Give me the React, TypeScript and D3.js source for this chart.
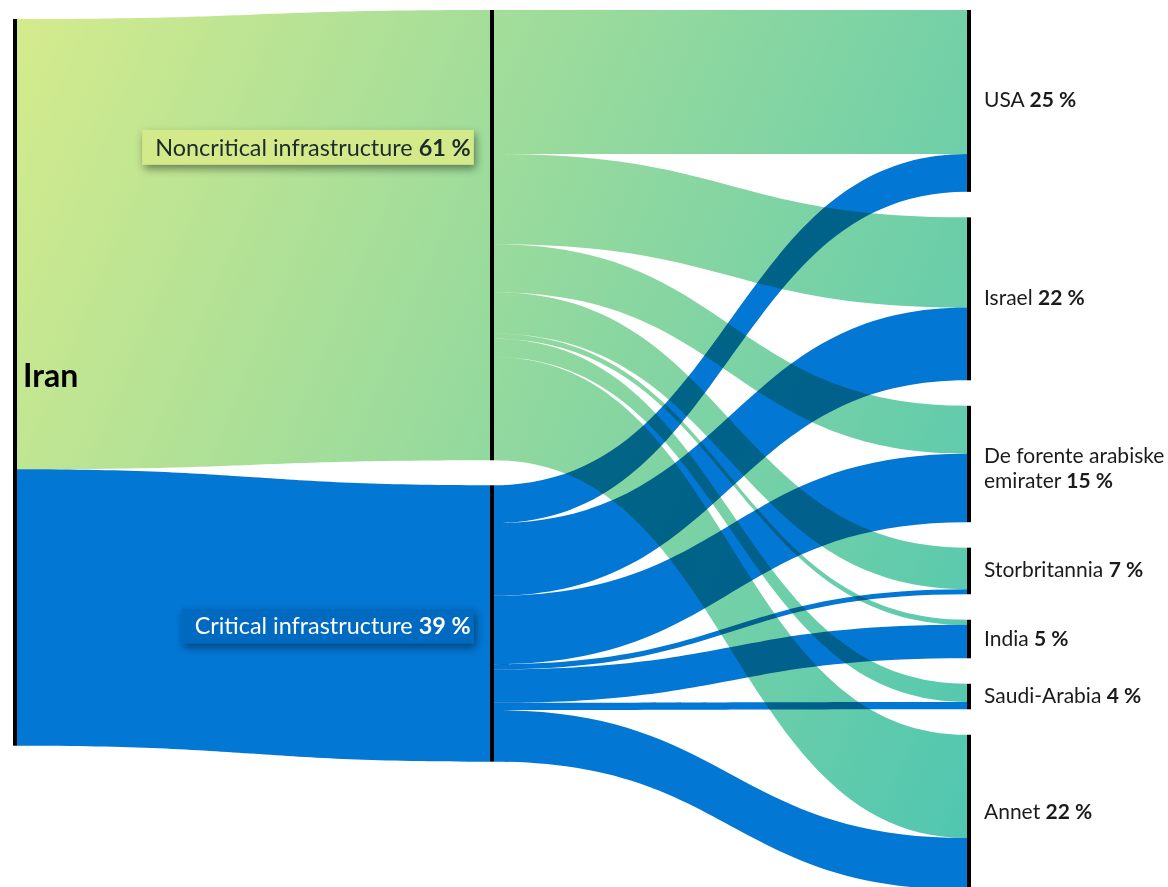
import React, { useMemo } from 'react';
import * as d3 from 'd3';

// ---------- data ----------
const sourceName = 'Iran';
const categories = ['Noncritical infrastructure', 'Critical infrastructure'];
const categoryShares = ['61 %', '39 %'];
const countries = [
  'USA',
  'Israel',
  'De forente arabiske emirater',
  'Storbritannia',
  'India',
  'Saudi-Arabia',
  'Annet',
];
const countryShares = ['25 %', '22 %', '15 %', '7 %', '5 %', '4 %', '22 %'];
const noncriticalValues = [19.8, 12.4, 6.6, 5.7, 0.7, 2.5, 14.2];
const criticalValues = [5.2, 10.0, 9.4, 0.7, 4.6, 1.0, 7.1];

// ---------- layout / style ----------
const W = 1168;
const H = 887;
const FONT = "Lato, 'Segoe UI', 'Open Sans', sans-serif";
const NODE_W = 4;
const COL_X = [13, 490, 967];
const COL_TOP = [19, 10, 10];
const PAD_MID = 25;
const PAD_RIGHT = 25.5;
const VALUE_PX = 726.7;
const MID_LABEL_ANCHOR = [0.305, 0.509];
const GREEN0 = '#d5eb8c';
const GREEN1 = '#4ec6b1';
const BLUE = '#0277d4';
const RIGHT_FS = 21;
const MID_FS = 23.4;
const RIGHT_LABEL_X = 984;
const RIGHT_LABEL_MAXW = 192;
const LINE_H = 25;

let measureCtx: CanvasRenderingContext2D | null = null;
function textWidth(s: string, size: number, weight: number) {
  if (!measureCtx) measureCtx = document.createElement('canvas').getContext('2d');
  if (!measureCtx) return s.length * size * 0.5;
  measureCtx.font = `${weight} ${size}px Lato`;
  return measureCtx.measureText(s).width;
}

function ribbon(x0: number, x1: number, s0: number, s1: number, t0: number, t1: number) {
  const p = d3.path();
  const xm = (x0 + x1) / 2;
  p.moveTo(x0, s0);
  p.bezierCurveTo(xm, s0, xm, t0, x1, t0);
  p.lineTo(x1, t1);
  p.bezierCurveTo(xm, t1, xm, s1, x0, s1);
  p.closePath();
  return p.toString();
}

function wrapName(name: string) {
  const words = name.split(' ');
  const lines: string[] = [];
  let cur = '';
  words.forEach((w) => {
    const test = cur ? cur + ' ' + w : w;
    if (cur && textWidth(test, RIGHT_FS, 400) > RIGHT_LABEL_MAXW) {
      lines.push(cur);
      cur = w;
    } else cur = test;
  });
  lines.push(cur);
  return lines;
}

export default function App() {
  const model = useMemo(() => {
    const catValues = [noncriticalValues, criticalValues];
    const catTotals = catValues.map((v) => d3.sum(v));
    const total = d3.sum(catTotals);
    const k = d3.scaleLinear().domain([0, total]).range([0, VALUE_PX]);

    const src = { y0: COL_TOP[0], y1: COL_TOP[0] + k(total) };

    const mids: { y0: number; y1: number }[] = [];
    let y = COL_TOP[1];
    catTotals.forEach((t) => {
      mids.push({ y0: y, y1: y + k(t) });
      y += k(t) + PAD_MID;
    });

    const rights: { y0: number; y1: number }[] = [];
    y = COL_TOP[2];
    countries.forEach((_, i) => {
      const v = noncriticalValues[i] + criticalValues[i];
      rights.push({ y0: y, y1: y + k(v) });
      y += k(v) + PAD_RIGHT;
    });

    const firstLinks: { d: string; cat: number }[] = [];
    let sy = src.y0;
    catTotals.forEach((t, c) => {
      const h = k(t);
      firstLinks.push({
        d: ribbon(COL_X[0] + NODE_W, COL_X[1], sy, sy + h, mids[c].y0, mids[c].y1),
        cat: c,
      });
      sy += h;
    });

    const secondLinks: { d: string; cat: number }[] = [];
    const rightOffset = rights.map((r) => r.y0);
    catValues.forEach((vals, c) => {
      let s = mids[c].y0;
      vals.forEach((v, i) => {
        const h = k(v);
        const t = rightOffset[i];
        secondLinks.push({
          d: ribbon(COL_X[1] + NODE_W, COL_X[2], s, s + h, t, t + h),
          cat: c,
        });
        s += h;
        rightOffset[i] += h;
      });
    });

    return { src, mids, rights, firstLinks, secondLinks };
  }, []);

  const { src, mids, rights, firstLinks, secondLinks } = model;
  const fillFor = (c: number) => (c === 0 ? 'url(#greenGrad)' : BLUE);

  return (
    <svg
      width={W}
      height={H}
      viewBox={`0 0 ${W} ${H}`}
      style={{ position: 'absolute', left: 0, top: 0, display: 'block', background: '#fff' }}
      fontFamily={FONT}
    >
      <defs>
        <linearGradient id="greenGrad" gradientUnits="userSpaceOnUse" x1={13} y1={19} x2={1132} y2={493}>
          <stop offset="0" stopColor={GREEN0} />
          <stop offset="1" stopColor={GREEN1} />
        </linearGradient>
        <filter id="boxShadow" x="-10%" y="-40%" width="125%" height="200%">
          <feDropShadow dx="2" dy="4" stdDeviation="4" floodColor="#000" floodOpacity="0.45" />
        </filter>
      </defs>

      <rect x={0} y={0} width={W} height={H} fill="#fff" />

      <g style={{ isolation: 'isolate' }}>
        {firstLinks.map((l, i) => (
          <path key={'a' + i} d={l.d} fill={fillFor(l.cat)} style={{ mixBlendMode: 'multiply' }} />
        ))}
        {secondLinks.map((l, i) => (
          <path key={'b' + i} d={l.d} fill={fillFor(l.cat)} style={{ mixBlendMode: 'multiply' }} />
        ))}
      </g>

      {/* node bars */}
      <rect x={COL_X[0]} y={src.y0} width={NODE_W} height={src.y1 - src.y0} fill="#000" />
      {mids.map((m, i) => (
        <rect key={'m' + i} x={COL_X[1]} y={m.y0} width={NODE_W} height={m.y1 - m.y0} fill="#000" />
      ))}
      {rights.map((r, i) => (
        <rect key={'r' + i} x={COL_X[2]} y={r.y0} width={NODE_W} height={r.y1 - r.y0} fill="#000" />
      ))}

      {/* source label */}
      <text
        x={COL_X[0] + NODE_W + 6}
        y={(src.y0 + src.y1) / 2 + 5}
        fontSize={32}
        fontWeight={700}
        fill="#000"
      >
        {sourceName}
      </text>

      {/* category labels */}
      {mids.map((m, i) => {
        const cy = m.y0 + (m.y1 - m.y0) * MID_LABEL_ANCHOR[i];
        const boxRight = COL_X[1] - 16.3;
        const tw =
          textWidth(categories[i] + ' ', MID_FS, 400) + textWidth(categoryShares[i], MID_FS, 700);
        const textRight = boxRight - 3;
        const boxLeft = textRight - tw - 13;
        const bh = 34.7;
        return (
          <g key={'ml' + i}>
            <rect
              x={boxLeft}
              y={cy - bh / 2}
              width={boxRight - boxLeft}
              height={bh}
              fill={i === 0 ? '#d4ea8a' : '#0569c0'}
              filter="url(#boxShadow)"
            />
            <text
              x={textRight}
              y={cy + MID_FS * 0.36}
              fontSize={MID_FS}
              textAnchor="end"
              fill={i === 0 ? '#1c2b2b' : '#ffffff'}
            >
              <tspan fontWeight={400}>{categories[i] + ' '}</tspan>
              <tspan fontWeight={700}>{categoryShares[i]}</tspan>
            </text>
          </g>
        );
      })}

      {/* country labels */}
      {rights.map((r, i) => {
        const lines = wrapName(countries[i]);
        const cy = (r.y0 + r.y1) / 2;
        const firstBase = cy - (lines.length - 1) * LINE_H * 0.32 + RIGHT_FS * 0.31;
        return (
          <text key={'rl' + i} fontSize={RIGHT_FS} fill="#1b1b1b">
            {lines.map((ln, j) => (
              <tspan key={j} x={RIGHT_LABEL_X} y={firstBase + j * LINE_H}>
                <tspan fontWeight={400}>{ln + (j === lines.length - 1 ? ' ' : '')}</tspan>
                {j === lines.length - 1 ? <tspan fontWeight={700}>{countryShares[i]}</tspan> : null}
              </tspan>
            ))}
          </text>
        );
      })}
    </svg>
  );
}
